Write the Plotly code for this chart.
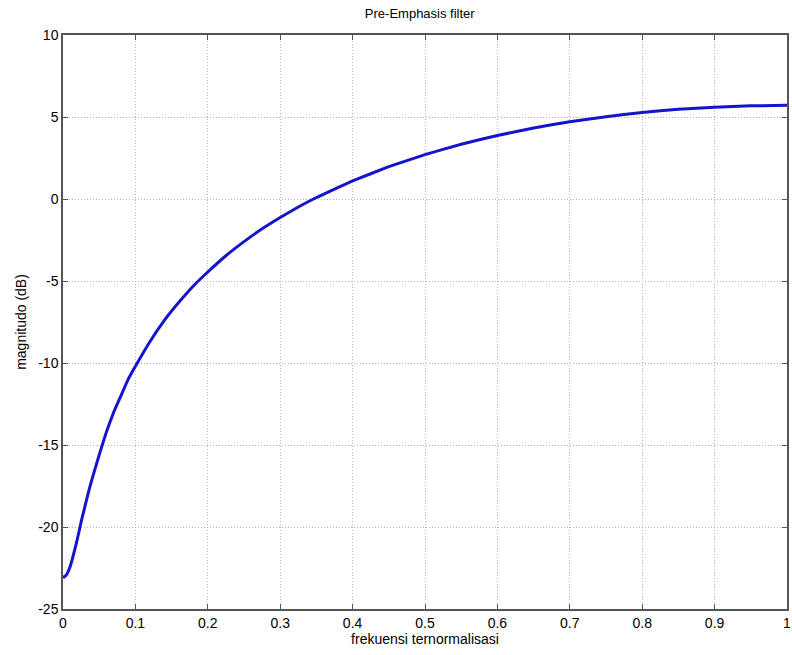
import plotly.graph_objects as go

freq = [0.0, 0.005, 0.01, 0.015, 0.02, 0.025, 0.03, 0.035, 0.04, 0.05, 0.06, 0.07, 0.08,
        0.09, 0.1, 0.12, 0.14, 0.16, 0.18, 0.2, 0.225,
        0.25, 0.275, 0.3, 0.325, 0.35, 0.4, 0.45, 0.5, 0.55, 0.6, 0.65, 0.7, 0.75, 0.8, 0.85,
        0.9, 0.95, 1.0]
mag_db = [-23.1, -22.9, -22.4, -21.6, -20.7, -19.7, -18.8, -17.9, -17.1, -15.6, -14.2, -13.0, -12.0,
          -11.0, -10.2, -8.7, -7.4, -6.3, -5.3, -4.45, -3.46,
          -2.6, -1.82, -1.13, -0.49, 0.09, 1.1, 1.97, 2.71, 3.34, 3.87, 4.33, 4.71, 5.02, 5.28, 5.47,
          5.6, 5.68, 5.71]

x_ticks = [0, 0.1, 0.2, 0.3, 0.4, 0.5, 0.6, 0.7, 0.8, 0.9, 1]
x_labels = ["0", "0.1", "0.2", "0.3", "0.4", "0.5", "0.6", "0.7", "0.8", "0.9", "1"]
y_ticks = [-25, -20, -15, -10, -5, 0, 5, 10]
y_labels = ["-25", "-20", "-15", "-10", "-5", "0", "5", "10"]

fig = go.Figure()
fig.add_trace(go.Scatter(x=freq, y=mag_db, mode="lines",
                         line=dict(color="#1414cc", width=3, shape="spline", smoothing=0.3),
                         showlegend=False, cliponaxis=False))

font = dict(family="Liberation Sans, Arial, sans-serif", color="black")
axis_common = dict(showline=True, linecolor="#555555", linewidth=1.5, mirror="ticks",
                   ticks="inside", ticklen=5, tickcolor="#555555",
                   showgrid=True, gridcolor="#b4b4b4", griddash="1px,2px", gridwidth=1,
                   zeroline=False, automargin=False, ticklabeloverflow="allow",
                   tickfont=dict(size=14, **font))

fig.update_layout(
    width=792, height=655,
    margin=dict(l=63, r=5, t=35, b=46),
    paper_bgcolor="white", plot_bgcolor="white",
    title=dict(text="Pre-Emphasis filter", x=0.53, xanchor="center", y=0.979, yanchor="middle",
               font=dict(size=13, **font)),
    xaxis=dict(range=[0, 1], tickvals=x_ticks, ticktext=x_labels,
               title=dict(text="frekuensi ternormalisasi", font=dict(size=14, **font), standoff=4),
               **axis_common),
    yaxis=dict(range=[-25, 10], tickvals=y_ticks, ticktext=y_labels,
               title=dict(text="magnitudo (dB)", font=dict(size=14, **font), standoff=8),
               **axis_common),
)

fig.write_html("out.html", config={"displayModeBar": False},
               post_script="document.body.style.margin='0';document.body.style.overflow='hidden';")
